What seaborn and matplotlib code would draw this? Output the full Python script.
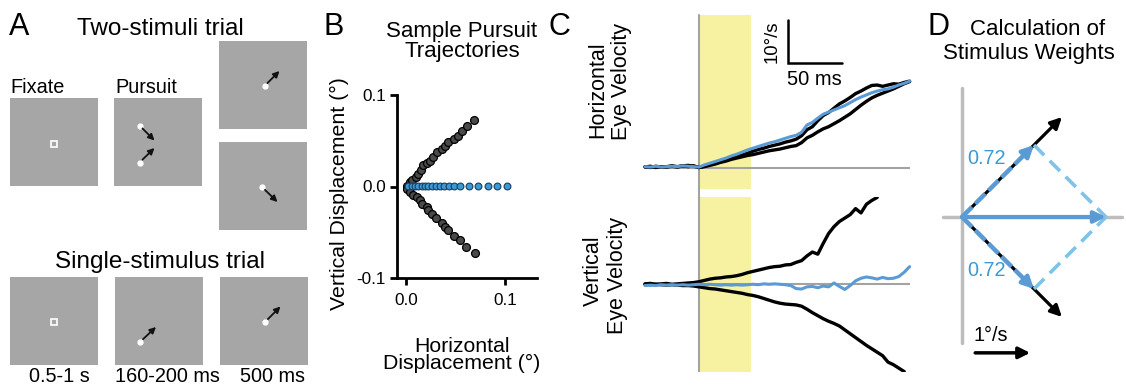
import numpy as np
import pandas as pd
import matplotlib
matplotlib.use('Agg')
import matplotlib.pyplot as plt
from matplotlib.patches import Rectangle
import seaborn as sns

sns.set_style('ticks')
plt.rcParams['font.family'] = ['Liberation Sans', 'DejaVu Sans']
plt.rcParams['text.color'] = 'black'
plt.rcParams['axes.labelcolor'] = 'black'
plt.rcParams['xtick.color'] = 'black'
plt.rcParams['ytick.color'] = 'black'

W, H = 1126, 389

# ---------------- data ----------------
# B: sample pursuit trajectories (deg)
up_x = [0.0007, 0.004, 0.0057, 0.0098, 0.0125, 0.0152, 0.0175, 0.0209, 0.0242, 0.0276,
        0.031, 0.036, 0.0394, 0.0428, 0.0488, 0.0529, 0.0562, 0.0613, 0.069]
up_y = [0.001, 0.0047, 0.0073, 0.0102, 0.0139, 0.0175, 0.023, 0.0259, 0.0284, 0.032,
        0.0375, 0.0412, 0.0448, 0.0484, 0.0521, 0.0557, 0.0612, 0.0659, 0.0729]
dn_x = [0.0007, 0.004, 0.0074, 0.0108, 0.0141, 0.0165, 0.0209, 0.0226, 0.0266, 0.03,
        0.036, 0.0394, 0.0428, 0.0488, 0.0545, 0.0603, 0.0697]
dn_y = [-0.0025, -0.0062, -0.0098, -0.0117, -0.0153, -0.0189, -0.0226, -0.0262, -0.0298, -0.0346,
        -0.0397, -0.0445, -0.047, -0.0536, -0.059, -0.0663, -0.0729]
avg_x = [0.0017, 0.0057, 0.0091, 0.0125, 0.0158, 0.0192, 0.0226, 0.026, 0.03, 0.0343,
         0.0387, 0.0434, 0.0488, 0.0545, 0.0636, 0.073, 0.0825, 0.0916, 0.1017]
avg_y = [0.001, 0.0008, 0.001, 0.0007, 0.001, 0.0008, 0.001, 0.0007, 0.0009, 0.001,
         0.0008, 0.001, 0.0009, 0.001, 0.0008, 0.0009, 0.001, 0.0009, 0.0008]

# C: eye velocity traces (deg/s), 5 ms samples
t_ms = list(range(-50, 200, 5))
nan = np.nan
hor_blue = [0.3, 0.2, 0.4, 0.2, 0.3, 0.4, 0.3, 0.5, 0.4, 0.3,
            0.2, 0.7, 1.1, 1.5, 1.9, 2.3, 2.8, 3.2, 3.7, 4.2,
            4.6, 5.0, 5.4, 5.8, 6.1, 6.5, 6.9, 7.3, 7.6, 8.3,
            10.0, 10.6, 11.6, 12.5, 13.0, 13.5, 14.0, 14.5, 15.2, 15.9,
            16.5, 17.0, 17.5, 17.9, 18.2, 18.4, 18.8, 19.3, 19.7, 20.2]
hor_black1 = [0.3, 0.1, 0.4, 0.2, 0.3, 0.5, 0.3, 0.5, 0.6, 0.4,
              0.1, 0.4, 0.8, 1.1, 1.4, 1.8, 2.2, 2.6, 3.0, 3.4,
              3.9, 4.3, 4.6, 5.0, 5.3, 5.6, 6.0, 6.3, 6.7, 7.5,
              8.9, 9.6, 11.0, 12.2, 12.9, 13.9, 14.9, 15.6, 16.4, 17.3,
              17.9, 18.6, 19.2, 19.3, 19.0, 19.3, 19.6, 19.5, 19.9, 20.2]
hor_black2 = [0.2, 0.4, 0.1, 0.3, 0.2, 0.4, 0.2, 0.5, 0.3, 0.5,
              0.1, 0.3, 0.6, 0.9, 1.3, 1.6, 2.0, 2.3, 2.6, 2.9,
              3.1, 3.4, 3.7, 4.0, 4.2, 4.4, 4.7, 5.0, 5.2, 5.9,
              7.0, 7.6, 8.4, 9.1, 9.6, 10.3, 11.0, 11.8, 12.6, 13.6,
              14.6, 15.5, 16.3, 16.9, 17.4, 17.9, 18.4, 19.0, 19.6, 20.1]
ver_black_up = [0.1, 0.2, 0.0, 0.1, 0.2, 0.0, 0.1, 0.2, 0.3, 0.4,
                0.6, 0.9, 1.2, 1.4, 1.5, 1.7, 1.8, 2.0, 2.3, 2.7,
                3.0, 3.3, 3.6, 3.9, 4.1, 4.2, 4.5, 4.6, 5.1, 5.5,
                6.6, 7.5, 7.0, 9.5, 11.8, 13.4, 14.6, 15.4, 16.2, 17.6,
                16.6, 18.6, 19.5, 20.2, nan, nan, nan, nan, nan, nan]
ver_black_dn = [0.0, -0.1, 0.0, -0.1, -0.2, -0.1, -0.2, -0.3, -0.3, -0.4,
                -0.6, -0.8, -1.0, -1.1, -1.3, -1.5, -1.7, -1.9, -2.1, -2.4,
                -2.6, -2.9, -3.3, -3.7, -4.1, -4.4, -4.6, -4.7, -4.8, -5.1,
                -5.8, -6.6, -7.3, -8.0, -8.6, -9.1, -9.7, -10.6, -11.5, -12.4,
                -13.3, -14.2, -15.0, -15.8, -16.6, -18.1, -18.7, -19.5, -20.3, nan]
ver_blue = [-0.3, -0.2, -0.3, -0.1, -0.2, -0.1, -0.2, -0.1, -0.2, -0.1,
            0.0, -0.1, 0.0, -0.1, -0.2, -0.1, -0.2, -0.1, -0.2, -0.1,
            0.0, -0.1, 0.1, 0.0, 0.1, 0.0, -0.1, -0.3, -1.0, -1.1,
            -0.6, -0.5, -0.8, -0.4, -0.6, 0.3, -0.5, -1.2, -0.3, 0.8,
            1.4, 1.7, 1.5, 1.2, 1.6, 1.3, 1.4, 1.8, 2.8, 4.1]
window_ms = [0, 48]

# D: stimulus weights
stim_speed = 2.57
stim_angles = [45, -45]
weights = [0.72, 0.72]

BLUE = '#5b9bd5'
LBLUE = '#7fc3ea'
GRAY_SQ = '#a6a6a6'


def box(x0, y0, x1, y1):
    return [x0 / W, 1 - y1 / H, (x1 - x0) / W, (y1 - y0) / H]


fig = plt.figure(figsize=(W / 100, H / 100), dpi=100)

# overlay in pixel coordinates (panel A + labels)
ax0 = fig.add_axes([0, 0, 1, 1])
ax0.set_xlim(0, W)
ax0.set_ylim(H, 0)
ax0.axis('off')

for lab, x in [('A', 9), ('B', 324), ('C', 549), ('D', 927)]:
    ax0.text(x, 35, lab, fontsize=22, ha='left', va='baseline')

# ---- panel A
squares = [(10, 98), (114, 98), (219, 41), (219, 142), (10, 277), (115, 277), (220, 277)]
for x, y in squares:
    ax0.add_patch(Rectangle((x, y), 88, 88, facecolor=GRAY_SQ, edgecolor='none'))

for x, y in [(53.5, 144), (54, 321.5)]:
    ax0.plot(x, y, 's', ms=4, mfc=GRAY_SQ, mec='white', mew=1.2)

moves = [((139.5, 125.5), (154.5, 140.5)), ((139.5, 162.5), (154.5, 148)),
         ((264.5, 86), (279.5, 71)), ((262, 187), (277.5, 202)),
         ((140, 342), (156, 327)), ((265, 322), (280.5, 306.5))]
for (sx, sy), (ex, ey) in moves:
    ax0.plot(sx, sy, 'o', color='white', ms=3.5, mec='white')
    ax0.annotate('', xy=(ex, ey), xytext=(sx, sy),
                 arrowprops=dict(arrowstyle='-|>', color='#111111', lw=1.3,
                                 mutation_scale=9, shrinkA=3, shrinkB=0))

ax0.text(160, 35, 'Two-stimuli trial', fontsize=17.5, ha='center', va='baseline')
ax0.text(10, 92.5, 'Fixate', fontsize=14.3, ha='left', va='baseline')
ax0.text(115, 92.5, 'Pursuit', fontsize=14.3, ha='left', va='baseline')
ax0.text(160, 268, 'Single-stimulus trial', fontsize=17.5, ha='center', va='baseline')
for s, x in [('0.5-1 s', 59), ('160-200 ms', 167), ('500 ms', 272.5)]:
    ax0.text(x, 381.5, s, fontsize=14.3, ha='center', va='baseline')

# ---- panel B
axB = fig.add_axes(box(397, 95, 537, 278))
axB.set_facecolor('none')
dfB = pd.DataFrame({'x': up_x + dn_x, 'y': up_y + dn_y})
sns.scatterplot(data=dfB, x='x', y='y', color='#4a4a4a', edgecolor='black',
                s=32, linewidth=0.9, ax=axB, zorder=3)
sns.scatterplot(x=avg_x, y=avg_y, color='#3a9ad6', edgecolor='#1c3d5c',
                s=24, linewidth=0.8, ax=axB, zorder=4)
axB.set_xlim(-0.0091, 0.1323)
axB.set_ylim(-0.1, 0.1)
axB.set_xticks([0, 0.1])
axB.set_xticklabels(['0.0', '0.1'])
axB.set_yticks([-0.1, 0, 0.1])
axB.set_yticklabels(['-0.1', '0.0', '0.1'])
axB.set_xlabel('')
axB.set_ylabel('')
for sp in ['top', 'right']:
    axB.spines[sp].set_visible(False)
for sp in ['left', 'bottom']:
    axB.spines[sp].set_linewidth(2)
    axB.spines[sp].set_color('black')
axB.tick_params(direction='out', length=5, width=2, labelsize=12.3, colors='black')
axB.tick_params(axis='y', pad=3)
axB.tick_params(axis='x', pad=6)

ax0.text(462, 36.5, 'Sample Pursuit', fontsize=16, ha='center', va='baseline')
ax0.text(462, 57, 'Trajectories', fontsize=16, ha='center', va='baseline')
ax0.text(462, 351.5, 'Horizontal', fontsize=15.3, ha='center', va='baseline')
ax0.text(462, 369, 'Displacement (°)', fontsize=15.3, ha='center', va='baseline')
ax0.text(339, 194, 'Vertical Displacement (°)', fontsize=15.3, rotation=90,
         ha='center', va='center')

# ---- panel C
axCt = fig.add_axes(box(640, 15, 915, 189))
axCb = fig.add_axes(box(640, 197, 915, 372))
for ax in (axCt, axCb):
    ax.set_facecolor('none')
    ax.axvspan(window_ms[0], window_ms[1], color='#f6f2a2', lw=0, zorder=0)
    ax.hlines(0, t_ms[0], t_ms[-1], color='#a3a3a3', lw=1.5, zorder=1)
    ax.axis('off')
axCt.axvline(0, ymin=-0.06, ymax=1, color='#a3a3a3', lw=1.5, zorder=1, clip_on=False)
axCb.axvline(0, color='#a3a3a3', lw=1.5, zorder=1)

for vals in (hor_black2, hor_black1):
    sns.lineplot(x=t_ms, y=vals, color='black', lw=2.4, ax=axCt, zorder=2)
sns.lineplot(x=t_ms, y=hor_blue, color=BLUE, lw=2.2, ax=axCt, zorder=3)
for vals in (ver_black_up, ver_black_dn):
    sns.lineplot(x=t_ms, y=vals, color='black', lw=2.4, ax=axCb, zorder=2)
sns.lineplot(x=t_ms, y=ver_blue, color=BLUE, lw=2.2, ax=axCb, zorder=3)
for ax in (axCt, axCb):
    ax.set_xlim(-54.6, 200)
    ax.axis('off')
axCt.set_ylim(-4.9, 35.6)
axCb.set_ylim(-20.4, 20.3)

# scale bar: 10 deg/s, 50 ms
axCt.plot([82, 82, 132], [34.4, 24.4, 24.4], color='black', lw=1.8, solid_joinstyle='miter')
axCt.text(67.5, 29.4, '10°/s', fontsize=13.3, rotation=90, ha='center', va='center')
axCt.text(107, 19.2, '50 ms', fontsize=14.5, ha='center', va='baseline')

ax0.text(598, 90, 'Horizontal', fontsize=15.5, rotation=90, ha='center', va='center')
ax0.text(622, 81, 'Eye Velocity', fontsize=15.5, rotation=90, ha='center', va='center')
ax0.text(593, 271, 'Vertical', fontsize=15.5, rotation=90, ha='center', va='center')
ax0.text(617, 275, 'Eye Velocity', fontsize=15.5, rotation=90, ha='center', va='center')

# ---- panel D
axD = fig.add_axes(box(930, 80, 1126, 370))
axD.set_facecolor('none')
axD.set_xlim(-32 / 55, 164 / 55)
axD.set_ylim(-153 / 55, 137 / 55)
axD.axis('off')
axD.plot([0, 0], [-2.29, 2.35], color='#bdbdbd', lw=2.5, zorder=0)
axD.plot([-0.35, 2.91], [0, 0], color='#bdbdbd', lw=2.5, zorder=0)

tips = []
for ang, w in zip(stim_angles, weights):
    a = np.deg2rad(ang)
    sx, sy = stim_speed * np.cos(a), stim_speed * np.sin(a)
    bx, by = w * sx, w * sy
    tips.append((bx, by))
    axD.annotate('', xy=(sx, sy), xytext=(0, 0),
                 arrowprops=dict(arrowstyle='-|>', color='black', lw=2.3,
                                 mutation_scale=17, shrinkA=0, shrinkB=0), zorder=2)
    axD.plot([0, bx * 0.9], [0, by * 0.9], color=BLUE, lw=3.2,
             dashes=(3.2, 1.0), zorder=3)
    axD.annotate('', xy=(bx, by), xytext=(bx * 0.85, by * 0.85),
                 arrowprops=dict(arrowstyle='-|>', color=BLUE, lw=3,
                                 mutation_scale=17, shrinkA=0, shrinkB=0), zorder=4)
    axD.text(0.45, 1.07 if ang > 0 else -0.98, f'{w:.2f}', color='#3a9ad6',
             fontsize=14.3, ha='center', va='center')

sum_x = sum(t[0] for t in tips)
sum_y = sum(t[1] for t in tips)
for bx, by in tips:
    axD.plot([bx, sum_x], [by, sum_y], color=LBLUE, lw=2.6, dashes=(4, 2.2), zorder=2)
axD.annotate('', xy=(sum_x, sum_y), xytext=(0, 0),
             arrowprops=dict(arrowstyle='-|>', color=BLUE, lw=3,
                             mutation_scale=17, shrinkA=0, shrinkB=0), zorder=4)

# 1 deg/s scale arrow
axD.annotate('', xy=(0.24 + 1.0, -2.47), xytext=(0.24, -2.47),
             arrowprops=dict(arrowstyle='-|>', color='black', lw=2.5,
                             mutation_scale=17, shrinkA=0, shrinkB=0))
axD.text(0.53, -2.16, '1°/s', fontsize=14.3, ha='center', va='center')

ax0.text(1037.5, 35, 'Calculation of', fontsize=16, ha='center', va='baseline')
ax0.text(1029, 58.5, 'Stimulus Weights', fontsize=16, ha='center', va='baseline')

fig.savefig('out.png', dpi=100)
